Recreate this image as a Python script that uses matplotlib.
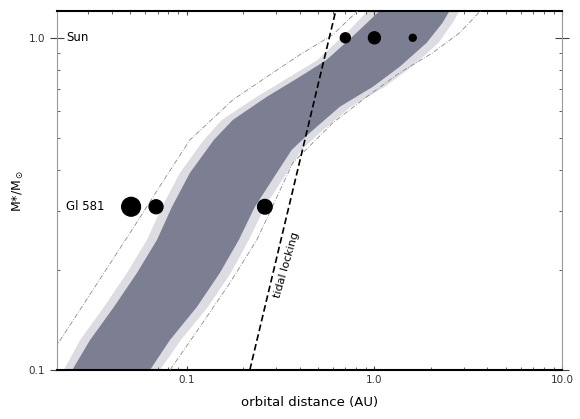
import matplotlib
matplotlib.use("Agg")
import matplotlib.pyplot as plt
from matplotlib.ticker import FixedLocator, NullFormatter

# habitable zone, dark core: inner (left) and outer (right) edges
core_in_a = [0.0246, 0.0306, 0.0410, 0.0544, 0.0695, 0.0835, 0.1041, 0.1397,
             0.1763, 0.2673, 0.4005, 0.557, 0.712, 0.835, 1.067]
core_in_m = [0.100, 0.1231, 0.1548, 0.196, 0.2464, 0.3097, 0.3921, 0.4929,
             0.5662, 0.6643, 0.763, 0.8584, 0.9727, 1.057, 1.206]
core_out_a = [0.0638, 0.0815, 0.1134, 0.1503, 0.1897, 0.2307, 0.302, 0.363,
              0.4525, 0.6536, 0.9793, 1.363, 1.897, 2.307, 2.514]
core_out_m = [0.100, 0.1231, 0.1548, 0.196, 0.2464, 0.3097, 0.3921, 0.460,
              0.5174, 0.6198, 0.7117, 0.8179, 0.9658, 1.110, 1.206]

# light fringe around the core
edge_in_a = [0.0222, 0.0271, 0.0363, 0.0481, 0.0615, 0.0739, 0.0921, 0.1236,
             0.1541, 0.2365, 0.3543, 0.4993, 0.6302, 0.7388, 0.921]
edge_in_m = core_in_m
edge_out_a = [0.0721, 0.0932, 0.1298, 0.1720, 0.2145, 0.2609, 0.3415, 0.4105,
              0.5117, 0.7478, 1.134, 1.579, 2.197, 2.609, 2.842]
edge_out_m = core_out_m

# dash-dot outer limits
lim_in_a = [0.0166, 0.0204, 0.0524, 0.0757, 0.1041, 0.1763, 0.2773, 0.4005,
            0.600, 0.815]
lim_in_m = [0.0986, 0.1189, 0.2696, 0.3735, 0.4929, 0.6506, 0.7738, 0.8888,
            1.021, 1.206]
lim_out_a = [0.0815, 0.1177, 0.1699, 0.2365, 0.3675, 0.600, 0.9097, 1.363,
             2.042, 2.842, 3.675]
lim_out_m = [0.100, 0.1348, 0.1828, 0.2464, 0.4202, 0.5546, 0.6643, 0.7846,
             0.9012, 1.035, 1.206]

# tidal locking line
tidal_a = [0.217, 0.622]
tidal_m = [0.100, 1.205]

# planets
sun_a = [0.70, 1.0, 1.6]
sun_m = [1.0, 1.0, 1.0]
sun_size = [7.2, 8.6, 5.0]
gl_a = [0.0506, 0.0687, 0.261]
gl_m = [0.31, 0.31, 0.31]
gl_size = [13.5, 10.0, 10.5]

fig = plt.figure(figsize=(5.8, 4.19), dpi=100)
ax = fig.add_axes([0.0983, 0.117, 0.871, 0.857])
ax.set_xscale("log")
ax.set_yscale("log")

ax.fill(edge_in_a + edge_out_a[::-1], edge_in_m + edge_out_m[::-1],
        color="#dcdce2", lw=0, zorder=1)
ax.fill(core_in_a + core_out_a[::-1], core_in_m + core_out_m[::-1],
        color="#7c7f91", lw=0, zorder=2)

ax.plot(lim_in_a, lim_in_m, color="#8a8a8a", lw=0.6, ls=(0, (6, 2, 1, 2)), zorder=3)
ax.plot(lim_out_a, lim_out_m, color="#8a8a8a", lw=0.6, ls=(0, (6, 2, 1, 2)), zorder=3)
ax.plot(tidal_a, tidal_m, color="black", lw=1.2, ls=(0, (4, 2)), zorder=4)

ax.scatter(sun_a, sun_m, s=[d ** 2 for d in sun_size], color="black", zorder=5)
ax.scatter(gl_a, gl_m, s=[d ** 2 for d in gl_size], color="black", zorder=5)

ax.text(0.0228, 1.0, "Sun", fontsize=8.5, va="center", ha="left")
ax.text(0.0228, 0.31, "Gl 581", fontsize=8.5, va="center", ha="left")
ax.text(0.34, 0.207, "tidal locking", fontsize=8, rotation=74,
        ha="center", va="center")

ax.set_xlim(0.0204, 10.0)
ax.set_ylim(0.1, 1.205)

ax.xaxis.set_major_locator(FixedLocator([0.1, 1.0, 10.0]))
ax.set_xticklabels(["0.1", "1.0", "10.0"])
ax.xaxis.set_minor_locator(FixedLocator(
    [k * 10.0 ** e for e in (-2, -1, 0) for k in range(2, 10)]))
ax.xaxis.set_minor_formatter(NullFormatter())
ax.yaxis.set_major_locator(FixedLocator([0.1, 1.0]))
ax.set_yticklabels(["0.1", "1.0"])
ax.yaxis.set_minor_locator(FixedLocator([k / 10 for k in range(2, 10)]))
ax.yaxis.set_minor_formatter(NullFormatter())

ax.tick_params(which="both", direction="in", top=True, right=True,
               labelsize=7.5, labelcolor="#333333", color="#444444")
ax.tick_params(which="major", length=3, width=0.8)
ax.tick_params(which="minor", length=2.5, width=0.6)
ax.tick_params(axis="y", which="major", direction="inout", length=10)

for side in ("top", "bottom"):
    ax.spines[side].set_linewidth(1.5)
    ax.spines[side].set_color("black")
for side in ("left", "right"):
    ax.spines[side].set_linewidth(0.8)
    ax.spines[side].set_color("#999999")

ax.set_xlabel("orbital distance (AU)", fontsize=9.5, labelpad=8)
ax.set_ylabel(r"M*/M$_\odot$", fontsize=9, labelpad=2)

fig.savefig("out.png", dpi=100)
